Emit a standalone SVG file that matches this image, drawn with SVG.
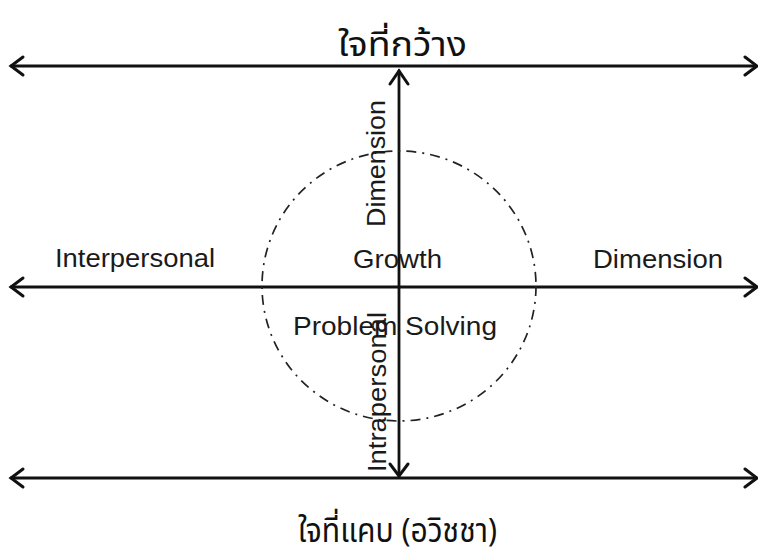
<svg xmlns="http://www.w3.org/2000/svg" width="758" height="560" viewBox="0 0 758 560">
<defs>
<style>
.ax{stroke:#111;stroke-width:2.8;fill:none;stroke-linecap:round;stroke-linejoin:round}
.hd{stroke:#111;stroke-width:3;fill:none;stroke-linecap:round;stroke-linejoin:miter}
.lbl{font-family:"Liberation Sans",Arial,sans-serif;font-size:26.5px;fill:#1a1a1a}
.th{font-family:"Noto Sans Thai","Noto Sans","DejaVu Sans",sans-serif;font-size:33px;fill:#111}
.circ{stroke:#222;stroke-width:1.7;fill:none;stroke-dasharray:10 6 2 6}
</style>
</defs>
<rect width="758" height="560" fill="#fff"/>
<g id="connectors">
<line class="ax" x1="11" y1="66" x2="756" y2="66"/>
<polyline class="hd" points="23,57 11,66 23,75"/>
<polyline class="hd" points="745,57 757,66 745,75"/>
<line class="ax" x1="11" y1="287" x2="756" y2="287"/>
<polyline class="hd" points="23,278 11,287 23,296"/>
<polyline class="hd" points="745,278 757,287 745,296"/>
<line class="ax" x1="11" y1="478" x2="756" y2="478"/>
<polyline class="hd" points="23,469 11,478 23,487"/>
<polyline class="hd" points="745,469 757,478 745,487"/>
<line class="ax" x1="399" y1="71" x2="399" y2="476"/>
<polyline class="hd" points="390,84 399,71 408,84"/>
<polyline class="hd" points="390,464 399,476 408,464"/>
</g>
<g id="circle">
<ellipse class="circ" cx="399" cy="286" rx="137" ry="135"/>
</g>
<g id="title-top"><text class="th" x="338" y="56" textLength="129" lengthAdjust="spacingAndGlyphs">ใจที่กว้าง</text></g>
<g id="title-bottom"><text class="th" x="298" y="542" textLength="199" lengthAdjust="spacingAndGlyphs">ใจที่แคบ (อวิชชา)</text></g>
<g id="interpersonal"><text class="lbl" x="55" y="267" textLength="160" lengthAdjust="spacingAndGlyphs">Interpersonal</text></g>
<g id="dimension-right"><text class="lbl" x="593" y="268" textLength="130" lengthAdjust="spacingAndGlyphs">Dimension</text></g>
<g id="growth"><text class="lbl" x="353" y="268" textLength="89" lengthAdjust="spacingAndGlyphs">Growth</text></g>
<g id="problem-solving"><text class="lbl" x="293" y="335" textLength="204" lengthAdjust="spacingAndGlyphs">Problem Solving</text></g>
<g id="dimension-vertical"><text class="lbl" transform="translate(385,227) rotate(-90)" textLength="127" lengthAdjust="spacingAndGlyphs">Dimension</text></g>
<g id="intrapersonal"><text class="lbl" transform="translate(386,472) rotate(-90)" textLength="160" lengthAdjust="spacingAndGlyphs">Intrapersonal</text></g>
</svg>
